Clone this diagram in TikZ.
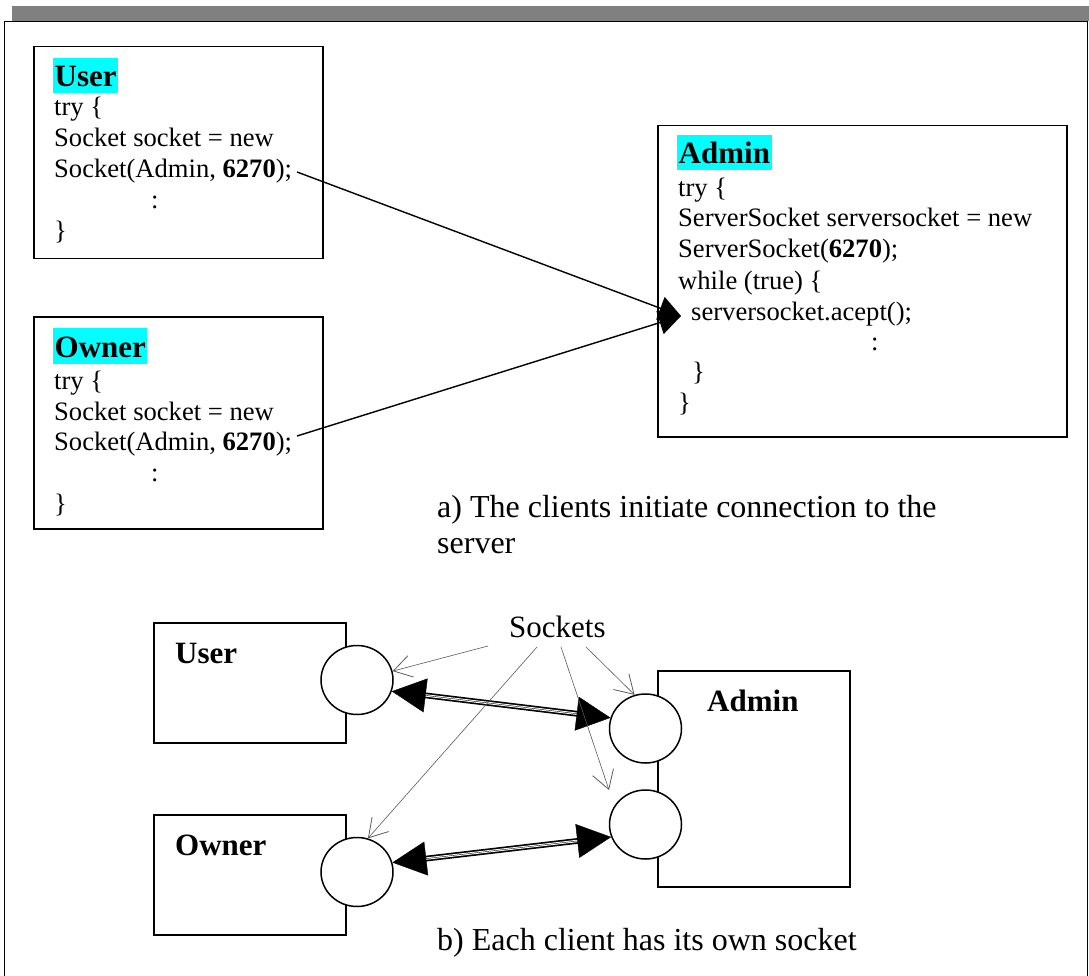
\documentclass[tikz,border=0pt]{standalone}
\usepackage{fontspec}
\setmainfont{Liberation Serif}
\usetikzlibrary{arrows.meta,shapes.geometric}
\definecolor{pgray}{RGB}{90,90,90}
\definecolor{hl}{RGB}{0,255,255}
\definecolor{bar}{RGB}{128,128,128}
\begin{document}
\begin{tikzpicture}[x=1pt,y=-1pt,
  box/.style={draw, line width=1.5pt, rectangle, anchor=north west, inner sep=0pt},
  code/.style={anchor=base west, inner sep=0pt, font=\fontsize{26.6}{31}\selectfont},
  tag/.style={anchor=base west, inner xsep=1.5pt, inner ysep=0pt, fill=hl, text height=29pt, text depth=6.5pt, font=\fontsize{31}{36}\selectfont\bfseries},
  lbl/.style={anchor=base west, inner sep=0pt, font=\fontsize{31}{36}\selectfont\bfseries},
  captext/.style={anchor=base west, inner sep=0pt, font=\fontsize{32}{37}\selectfont},
  sock/.style={draw, line width=1.5pt, fill=white, ellipse, minimum width=72pt, minimum height=69pt, inner sep=0pt},
  call/.style={line width=1.4pt, -{Triangle[length=22pt,width=24pt]}},
  linkline/.style={double, line width=1.7pt, double distance=2.4pt, shorten <=30pt, shorten >=30pt},
  linkheads/.style={line width=0.4pt, {Triangle[length=34pt,width=34pt]}-{Triangle[length=34pt,width=34pt]}},
  pointer/.style={draw=pgray, line width=0.6pt, -{Straight Barb[length=18pt,width=22pt,line width=0.8pt]}}
]
\useasboundingbox (0,0) rectangle (1089,976);
% page frame
\fill[bar] (12,6) rectangle (1089,21);
\draw[line width=1.5pt] (4.5,976) -- (4.5,21.5) -- (1087.5,21.5) -- (1087.5,976);

% ---------- part a ----------
\node[box, minimum width=289pt, minimum height=212pt] (ubox) at (33,46) {};
\node[tag] (uname) at (53,87) {User};
\node[code] (u1) at (54,116) {try \{};
\node[code] (u2) at (54,147) {Socket socket = new};
\node[code] (u3) at (54,178) {Socket(Admin, \textbf{6270});};
\node[code] (u4) at (151,209) {:};
\node[code] (u5) at (54,240) {\}};

\node[box, minimum width=289pt, minimum height=212pt] (obox) at (33,316) {};
\node[tag] (oname) at (53,357) {Owner};
\node[code] (o1) at (54,389) {try \{};
\node[code] (o2) at (54,420) {Socket socket = new};
\node[code] (o3) at (54,450) {Socket(Admin, \textbf{6270});};
\node[code] (o4) at (151,481) {:};
\node[code] (o5) at (54,512) {\}};

\node[box, minimum width=409pt, minimum height=311pt] (abox) at (657,125) {};
\node[tag] (aname) at (677,164) {Admin};
\node[code] (a1) at (678,197) {try \{};
\node[code] (a2) at (678,227) {ServerSocket serversocket = new};
\node[code] (a3) at (678,258) {ServerSocket(\textbf{6270});};
\node[code] (a4) at (678,289) {while (true) \{};
\node[code] (a5) at (691,320) {serversocket.acept();};
\node[code] (a6) at (871,350) {:};
\node[code] (a7) at (692,380) {\}};
\node[code] (a8) at (678,411) {\}};

\coordinate (ucall) at (297,172);
\coordinate (ocall) at (297,436);
\coordinate (accept) at (681,316);
\draw[call] (ucall) -- (accept);
\draw[call] (ocall) -- (accept);

\node[captext] (capa1) at (437,517) {a) The clients initiate connection to the};
\node[captext] (capa2) at (437,553) {server};

% ---------- part b ----------
\node[box, minimum width=192pt, minimum height=120pt] (ub) at (153,622) {};
\node[lbl] (ubl) at (175,663) {User};
\node[box, minimum width=192pt, minimum height=120pt] (ob) at (153,814) {};
\node[lbl] (obl) at (175,855) {Owner};
\node[box, minimum width=192pt, minimum height=216pt] (ab) at (657,670) {};
\node[lbl] (abl) at (707,711) {Admin};

\node[sock] (uc) at (357,680) {};
\node[sock] (oc) at (357,872) {};
\node[sock] (ac1) at (645.5,728.5) {};
\node[sock] (ac2) at (645.5,824.5) {};

\draw[linkline] (uc.-18) -- (ac1.163);
\draw[linkheads] (uc.-18) -- (ac1.163);
\draw[linkline] (oc.15) -- (ac2.-160);
\draw[linkheads] (oc.15) -- (ac2.-160);

\node[lbl, font=\fontsize{31}{36}\selectfont] (sockets) at (509,637) {Sockets};
\coordinate (s1) at (488,646);
\coordinate (s2) at (537,647);
\coordinate (s3) at (561,647);
\coordinate (s4) at (586,647);
\coordinate (ac2tip) at (609,790);
\draw[pointer] (s1) -- (uc.14);
\draw[pointer] (s2) -- (oc.72);
\draw[pointer] (s3) -- (ac2tip);
\draw[pointer] (s4) -- (ac1.108);

\node[captext] (capb) at (437,950) {b) Each client has its own socket};
\end{tikzpicture}
\end{document}
